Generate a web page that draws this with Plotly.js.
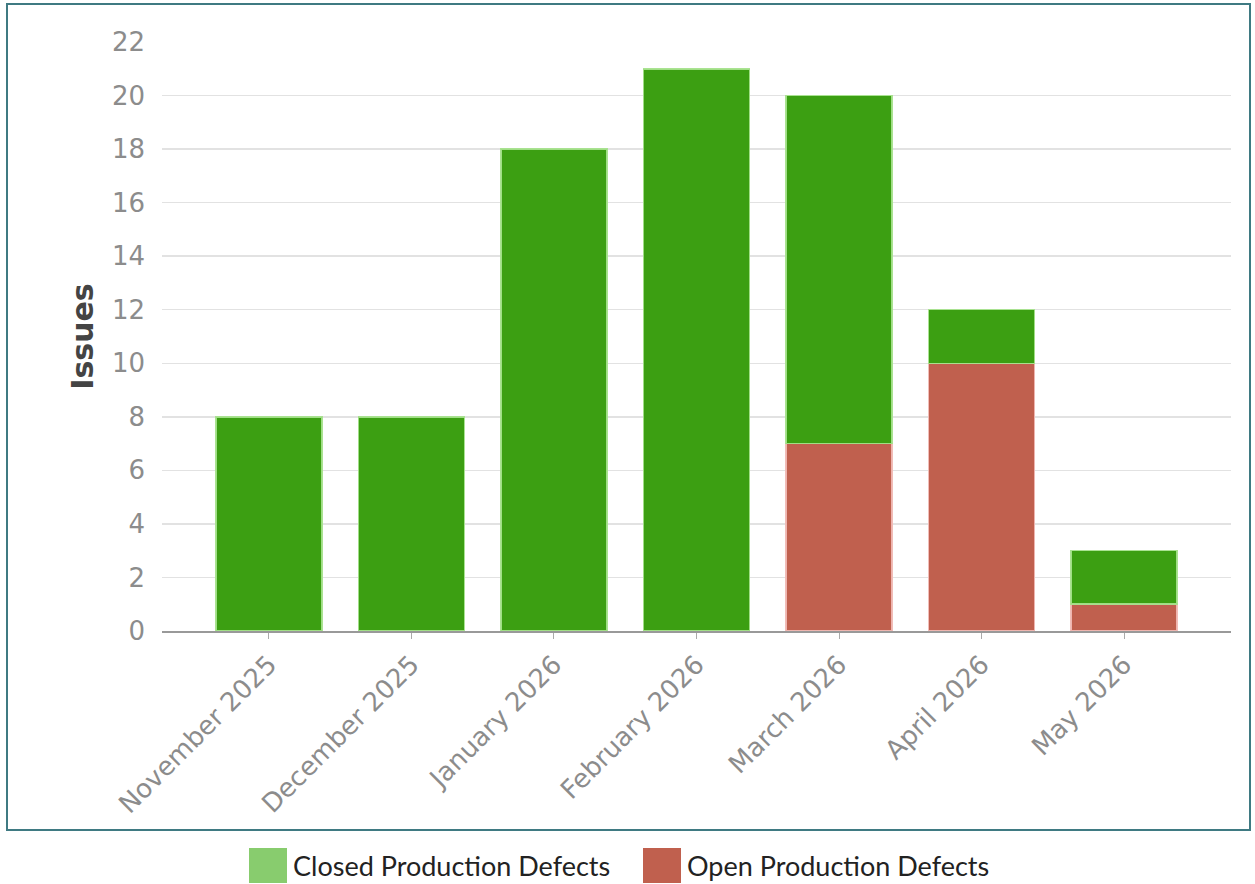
<!DOCTYPE html>
<html>
<head>
<meta charset="utf-8">
<script src="https://cdn.plot.ly/plotly-3.0.1.min.js"></script>
<style>
  html, body { margin: 0; padding: 0; background: #fff; }
  #chart { width: 1255px; height: 884px; }
</style>
</head>
<body>
<div id="chart"></div>
<script>
// Monthly production defects, split by status
const months = ["November 2025", "December 2025", "January 2026", "February 2026",
                "March 2026", "April 2026", "May 2026"];
const openDefects = [0, 0, 0, 0, 7, 10, 1];
const closedDefects = [8, 8, 18, 21, 13, 2, 2];
const yTicks = [0, 2, 4, 6, 8, 10, 12, 14, 16, 18, 20, 22];

const seriesNames = ["Closed Production Defects", "Open Production Defects"];
const barGreen = "#3c9f12";
const barRed = "#c0604e";
const keyGreen = "#88cc6e";
const keyRed = "#c0604e";

const traces = [
  {
    type: "bar", name: seriesNames[1], x: months, y: openDefects,
    marker: { color: barRed, line: { color: "rgba(240,185,180,0.95)", width: 1.5 } },
    hoverinfo: "x+y+name"
  },
  {
    type: "bar", name: seriesNames[0], x: months, y: closedDefects,
    marker: { color: barGreen, line: { color: "rgba(165,225,140,0.95)", width: 1.5 } },
    hoverinfo: "x+y+name"
  }
];

// Plot area geometry (px) used to place the frame and the key in paper units
const L = 162, R = 24, T = 42, B = 253, W = 1255, H = 884;
const pw = W - L - R, ph = H - T - B;
const px = v => (v - L) / pw;
const py = v => (H - B - v) / ph;

const shapes = [
  // outer frame around the chart
  { type: "rect", xref: "paper", yref: "paper",
    x0: px(7), x1: px(1250), y0: py(830), y1: py(4),
    line: { color: "#3f7a82", width: 2 }, fillcolor: "rgba(0,0,0,0)", layer: "below" },
  // key swatches
  { type: "rect", xref: "paper", yref: "paper",
    x0: px(249), x1: px(287), y0: py(883), y1: py(848),
    line: { width: 0 }, fillcolor: keyGreen },
  { type: "rect", xref: "paper", yref: "paper",
    x0: px(643), x1: px(681), y0: py(883), y1: py(848),
    line: { width: 0 }, fillcolor: keyRed }
];

const keyFont = { family: "Lato, sans-serif", size: 27, color: "#222" };
const annotations = [
  { xref: "paper", yref: "paper", x: px(291), y: py(866), xanchor: "left", yanchor: "middle",
    text: seriesNames[0], showarrow: false, font: keyFont },
  { xref: "paper", yref: "paper", x: px(685), y: py(866), xanchor: "left", yanchor: "middle",
    text: seriesNames[1], showarrow: false, font: keyFont }
];

const layout = {
  width: W, height: H,
  margin: { l: L, r: R, t: T, b: B, pad: 0 },
  paper_bgcolor: "#fff", plot_bgcolor: "#fff",
  barmode: "stack",
  bargap: 0.256,
  showlegend: false,
  font: { family: "DejaVu Sans, sans-serif", color: "#888" },
  xaxis: {
    type: "category",
    range: [-0.75, 6.75],
    tickangle: -45,
    tickfont: { family: "DejaVu Sans, sans-serif", size: 26, color: "#8c8c8c" },
    showgrid: false,
    showline: true, linecolor: "#999", linewidth: 2,
    ticks: "outside", ticklen: 6, tickcolor: "#aaa", tickwidth: 1,
    fixedrange: true
  },
  yaxis: {
    range: [0, 22],
    tickvals: yTicks,
    ticktext: yTicks.map(String),
    tickfont: { family: "DejaVu Sans, sans-serif", size: 26, color: "#8c8c8c" },
    showgrid: true, gridcolor: "#e2e2e2", gridwidth: 1.5,
    zeroline: false, showline: false,
    ticks: "", ticklabelstandoff: 16,
    title: { text: "Issues", font: { size: 30, color: "#444", family: "DejaVu Sans, sans-serif", weight: "bold" }, standoff: 9 },
    fixedrange: true
  },
  shapes: shapes,
  annotations: annotations
};

Plotly.newPlot("chart", traces, layout, { displayModeBar: false, staticPlot: true });
</script>
</body>
</html>
